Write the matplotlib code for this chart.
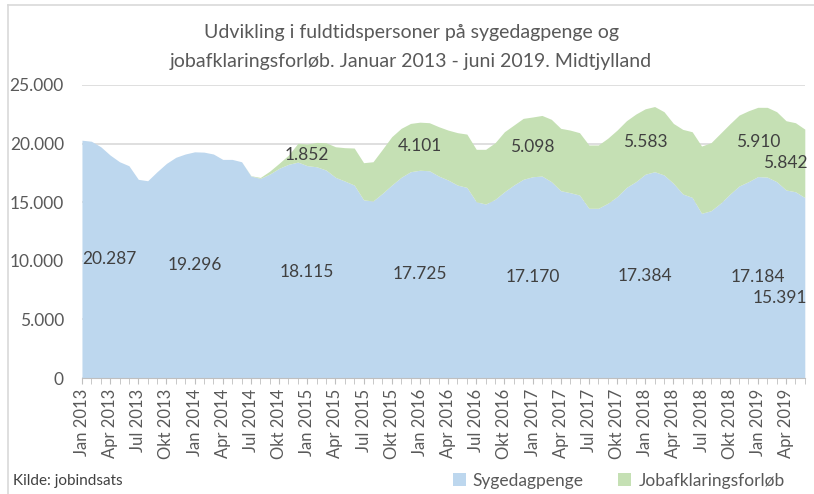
import matplotlib
matplotlib.use("Agg")
import matplotlib.pyplot as plt
from matplotlib.patches import Patch
from matplotlib.lines import Line2D
import numpy as np

# monthly, Jan 2013 - Jun 2019
month_names = ["Jan", "Feb", "Mar", "Apr", "Maj", "Jun", "Jul", "Aug", "Sep", "Okt", "Nov", "Dec"]
months = [f"{month_names[m]} {y}" for y in range(2013, 2020) for m in range(12)][:78]

sygedagpenge = [
    20287, 20200, 19730, 19020, 18450, 18110, 16950, 16830, 17600, 18310, 18830, 19110,
    19296, 19270, 19110, 18650, 18650, 18450, 17230, 17030, 17400, 17890, 18230, 18420,
    18115, 18020, 17740, 17120, 16800, 16460, 15200, 15100, 15750, 16460, 17120, 17600,
    17725, 17680, 17230, 16890, 16460, 16260, 15040, 14840, 15240, 15890, 16460, 16950,
    17170, 17230, 16750, 15980, 15810, 15610, 14480, 14480, 14900, 15470, 16260, 16750,
    17384, 17600, 17320, 16610, 15700, 15410, 14050, 14270, 14900, 15670, 16380, 16750,
    17184, 17140, 16750, 16040, 15890, 15391,
]
jobafklaring = [
    0, 0, 0, 0, 0, 0, 0, 0, 0, 0, 0, 0,
    0, 0, 0, 0, 0, 0, 30, 80, 250, 430, 790, 1600,
    1852, 2080, 2330, 2610, 2850, 3160, 3170, 3350, 3760, 4130, 4180, 4120,
    4101, 4100, 4210, 4260, 4470, 4550, 4470, 4670, 4830, 5120, 5120, 5200,
    5098, 5170, 5320, 5320, 5340, 5320, 5400, 5400, 5550, 5680, 5690, 5770,
    5583, 5560, 5400, 5110, 5510, 5600, 5740, 5800, 5970, 6000, 6050, 6050,
    5910, 5950, 5970, 5910, 5890, 5842,
]
# months that get a data label
label_idx = [0, 12, 24, 36, 48, 60, 72, 77]

FONT = ["Lato", "DejaVu Sans"]
plt.rcParams["font.family"] = FONT
TXT = "#595959"
BLUE = "#BDD7EE"
GREEN = "#C5E0B4"


def fmt(v):
    return f"{v:,}".replace(",", ".")


x = np.arange(len(months))
blue = np.array(sygedagpenge, dtype=float)
green = np.array(jobafklaring, dtype=float)

fig = plt.figure(figsize=(8.14, 4.94), dpi=100)
ax = fig.add_axes([0.1007, 0.2348, 0.888, 0.5932])

ax.fill_between(x, 0, blue, color=BLUE, lw=0, zorder=2)
ax.fill_between(x, blue, blue + green, color=GREEN, lw=0, zorder=2)

ax.set_xlim(0, len(months) - 1)
ax.set_ylim(0, 25000)
ax.set_yticks(np.arange(0, 25001, 5000))
ax.set_yticklabels([fmt(v) for v in range(0, 25001, 5000)])
ax.grid(axis="y", color="#d9d9d9", lw=1.2, zorder=0)
ax.set_axisbelow(True)
ax.tick_params(axis="y", length=0, pad=13, labelsize=12.5, labelcolor=TXT)

ax.set_xticks(x[::3])
ax.set_xticklabels(months[::3], rotation=90)
ax.set_xticks(x, minor=True)
ax.tick_params(axis="x", which="both", length=4, color="#bfbfbf", direction="out")
ax.tick_params(axis="x", labelsize=12, labelcolor=TXT, pad=4)
for s in ["left", "right", "top"]:
    ax.spines[s].set_visible(False)
ax.spines["bottom"].set_color("#bfbfbf")

lab_kw = dict(fontsize=12.5, color="#404040", va="center", zorder=5)
for i in label_idx:
    ha = "left" if i == 0 else ("right" if i == len(months) - 1 else "center")
    dx = 0.3 if i == len(months) - 1 else 0
    by = blue[i] / 2 - (850 if i == len(months) - 1 else 0)
    ax.text(i + dx, by, fmt(int(blue[i])), ha=ha, **lab_kw)
    if green[i] > 0:
        ax.text(i + dx, blue[i] + green[i] / 2, fmt(int(green[i])), ha=ha, **lab_kw)

fig.text(0.505, 0.935, "Udvikling i fuldtidspersoner på sygedagpenge og",
         ha="center", va="center", fontsize=14, color=TXT)
fig.text(0.505, 0.875, "jobafklaringsforløb. Januar 2013 - juni 2019. Midtjylland",
         ha="center", va="center", fontsize=14, color=TXT)

fig.text(0.016, 0.012, "Kilde: jobindsats", ha="left", va="bottom", fontsize=11, color="#404040")

handles = [Patch(facecolor=BLUE, edgecolor="none", label="Sygedagpenge"),
           Patch(facecolor=GREEN, edgecolor="none", label="Jobafklaringsforløb")]
fig.legend(handles=handles, loc="center", bbox_to_anchor=(0.76, 0.027), ncol=2, frameon=False,
           fontsize=12.5, handlelength=0.75, handleheight=0.75, handletextpad=0.4,
           columnspacing=2.0, labelcolor=TXT)

# chart-area border (left and top edges visible in the crop)
fig.add_artist(Line2D([0.01, 0.01], [0, 0.99], transform=fig.transFigure, color="#d9d9d9", lw=1.2))
fig.add_artist(Line2D([0.01, 1], [0.99, 0.99], transform=fig.transFigure, color="#d9d9d9", lw=1.2))

fig.savefig("out.png", dpi=100)
